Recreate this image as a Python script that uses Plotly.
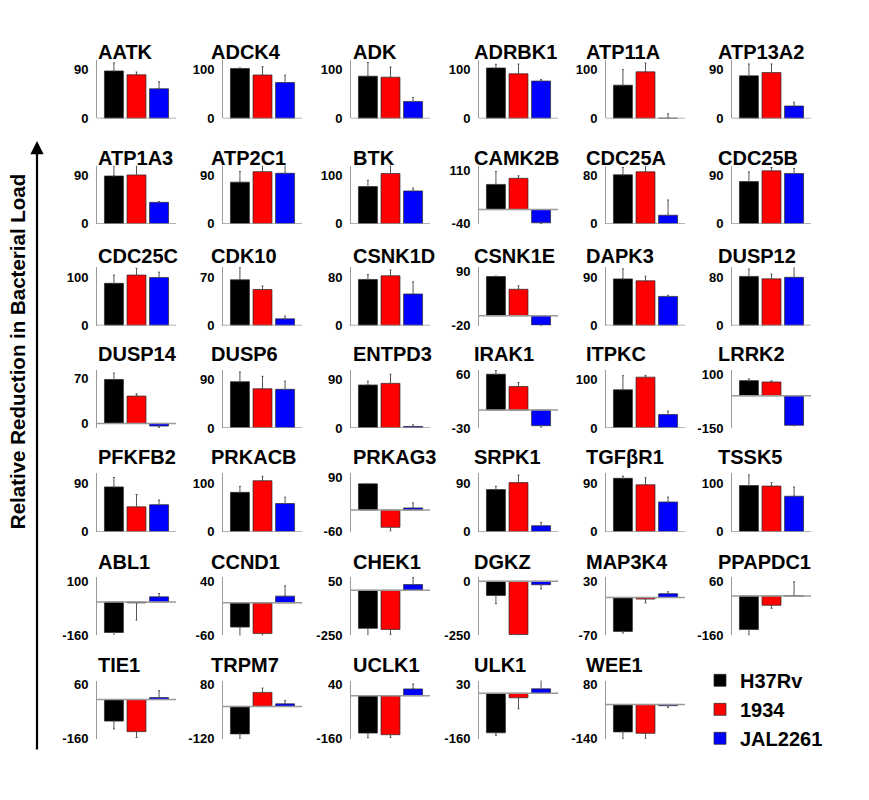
import plotly.graph_objects as go

# ---------------- data ----------------
genes = ["AATK", "ADCK4", "ADK", "ADRBK1", "ATP11A", "ATP13A2",
         "ATP1A3", "ATP2C1", "BTK", "CAMK2B", "CDC25A", "CDC25B",
         "CDC25C", "CDK10", "CSNK1D", "CSNK1E", "DAPK3", "DUSP12",
         "DUSP14", "DUSP6", "ENTPD3", "IRAK1", "ITPKC", "LRRK2",
         "PFKFB2", "PRKACB", "PRKAG3", "SRPK1", "TGFβR1", "TSSK5",
         "ABL1", "CCND1", "CHEK1", "DGKZ", "MAP3K4", "PPAPDC1",
         "TIE1", "TRPM7", "UCLK1", "ULK1", "WEE1"]

h37rv = [88, 103, 87, 104, 68.5, 79,
         89, 77.5, 77, 70, 81, 78.5,
         87, 66, 76, 80, 86.5, 81,
         69, 86, 80, 60, 79, 70,
         83, 81, 73, 78, 99, 95,
         -147, -45, -212, -66, -63, -137,
         -88, -102, -139, -139, -112]
s1934 = [81, 89.5, 85, 92, 96, 85,
         91, 97, 104, 87, 86, 98.6,
         104, 52, 82, 54, 83, 77,
         43, 73, 83, 39.5, 105, 64,
         46, 105, -48, 91, 87, 94,
         -4, -57, -218, -247, -3, -38,
         -131, 52, -145, -15.6, -118]
jal2261 = [55, 74, 35, 77, 0.5, 23,
           40, 94, 68, -37, 14.4, 93.6,
           99, 9.6, 52, -19, 54, 79.5,
           -4, 72, 3, -26, 28, -137,
           50, 58, 6, 11, 55, 73,
           25, 12.5, 32, -16, 7, 1,
           8, 9.5, 25, 16, -5]

h37rv_err = [15, 1, 28, 7.5, 32, 22,
             19, 20, 13, 36, 12, 18,
             17, 18, 8, 1, 18.5, 12,
             10, 18, 7, 6, 29, 8,
             17.5, 12, 1, 6, 4, 22,
             26, 16, 48, 38, 3, 23,
             32, 16, 17, 9, 28]
s1934_err = [5, 17, 21, 20, 18, 16,
             17, 15, 16, 7, 10, 6,
             14, 5, 9.5, 7, 8.5, 8,
             3.5, 23, 17, 6.5, 3.5, 5,
             23, 9, 10, 14, 13, 7,
             83, 4, 27, 3, 7, 12,
             24, 16, 10, 39, 22]
jal2261_err = [13, 15, 8, 3, 9, 7,
               1.5, 15, 6, 3, 25, 9,
               11, 4, 20, 2, 2, 18,
               2, 15, 3, 2, 7, 2,
               8.5, 13, 14, 6, 9, 19,
               16, 19, 38, 19, 3.5, 57,
               28, 12, 18, 35, 7]

tick_top = [90, 100, 100, 100, 100, 90,
            90, 90, 100, 110, 80, 90,
            100, 70, 80, 90, 90, 80,
            70, 90, 90, 60, 100, 100,
            90, 100, 90, 90, 90, 100,
            100, 40, 50, 0, 30, 60,
            60, 80, 40, 30, 80]
tick_bottom = [0, 0, 0, 0, 0, 0,
               0, 0, 0, -40, 0, 0,
               0, 0, 0, -20, 0, 0,
               0, 0, 0, -30, 0, -150,
               0, 0, -60, 0, 0, 0,
               -160, -60, -250, -250, -70, -160,
               -160, -120, -160, -160, -140]

strains = ["H37Rv", "1934", "JAL2261"]

# ---------------- layout / style ----------------
W, H = 869, 800
FONT = "Liberation Sans, Arial, sans-serif"
colors = ["#000000", "#ff0000", "#0000ff"]
col_left = [97, 223, 351, 479, 606, 732]
row_top = [58, 165, 268, 372, 477, 582, 687]
title_x = [96, 209, 351, 472, 584, 716]
title_y = [50, 157, 257, 356, 460, 567, 671]
pw, ph = 79, 59
axis_col = "#9a9a9a"

fig = go.Figure()
series = [h37rv, s1934, jal2261]
errors = [h37rv_err, s1934_err, jal2261_err]
shapes = []
annotations = []

for i, g in enumerate(genes):
    r, c = divmod(i, 6)
    n = "" if i == 0 else str(i + 1)
    for k in range(3):
        v = series[k][i]
        e = errors[k][i]
        fig.add_trace(go.Bar(
            x=[k], y=[v], width=0.84,
            marker=dict(color=colors[k], line=dict(color="rgba(40,40,40,0.7)", width=1)),
            error_y=dict(type="data", symmetric=False,
                         array=[e if v >= 0 else 0],
                         arrayminus=[e if v < 0 else 0],
                         color="#555555", thickness=1, width=1),
            name=strains[k], legendgroup=strains[k], showlegend=(i == 0),
            xaxis="x" + n, yaxis="y" + n))
    lo_t, hi_t = tick_bottom[i], tick_top[i]
    if lo_t == 0:
        hi = hi_t * 1.2
        mins = [series[k][i] - (errors[k][i] if series[k][i] < 0 else 0) for k in range(3)]
        lo = min(0, min(mins) * 1.2)
    else:
        lo = lo_t
        hi = hi_t + 0.08 * (hi_t - lo_t)
    left = col_left[c]
    top = row_top[r]
    fig.layout["xaxis" + n] = dict(
        domain=[left / W, (left + pw) / W], range=[-0.75, 2.75],
        anchor="y" + n, visible=False, fixedrange=True)
    fig.layout["yaxis" + n] = dict(
        domain=[1 - (top + ph) / H, 1 - top / H], range=[lo, hi],
        anchor="x" + n, tickvals=[lo_t, hi_t],
        ticktext=[str(lo_t), str(hi_t)],
        showgrid=False, zeroline=False,
        showline=True, linecolor=axis_col, linewidth=1, ticks="",
        ticklabelstandoff=5, fixedrange=True,
        tickfont=dict(size=13, family=FONT, color="#000", weight="bold"))
    shapes.append(dict(type="line", xref=("x" + n + " domain"), yref="y" + n,
                       x0=0, x1=1, y0=0, y1=0,
                       line=dict(color=axis_col, width=1.5)))
    annotations.append(dict(text="<b>" + g + "</b>", xref="paper", yref="paper",
                            x=title_x[c] / W, y=1 - title_y[r] / H,
                            xanchor="left", yanchor="middle", showarrow=False,
                            font=dict(size=20, family=FONT, color="#000")))

annotations.append(dict(text="<b>Relative Reduction in Bacterial Load</b>",
                        xref="paper", yref="paper", x=17 / W, y=1 - 354 / H,
                        textangle=-90, showarrow=False,
                        xanchor="center", yanchor="middle",
                        font=dict(size=20.5, family=FONT, color="#000")))
annotations.append(dict(text="", xref="paper", yref="paper",
                        x=37 / W, y=1 - 140 / H, ax=0, ay=610,
                        showarrow=True, arrowhead=2, arrowsize=1.2,
                        arrowwidth=2.2, arrowcolor="#000"))

fig.update_layout(
    width=W, height=H,
    margin=dict(l=0, r=0, t=0, b=0),
    paper_bgcolor="white", plot_bgcolor="white",
    barmode="overlay",
    shapes=shapes, annotations=annotations,
    showlegend=True,
    legend=dict(x=700 / W, y=1 - 667 / H, xanchor="left", yanchor="top",
                font=dict(size=20, family=FONT, color="#000", weight="bold"),
                itemwidth=30, tracegroupgap=0, bgcolor="rgba(0,0,0,0)"),
)

fig.write_html("out.html", config={"displayModeBar": False},
               post_script="document.body.style.margin='0px';")
